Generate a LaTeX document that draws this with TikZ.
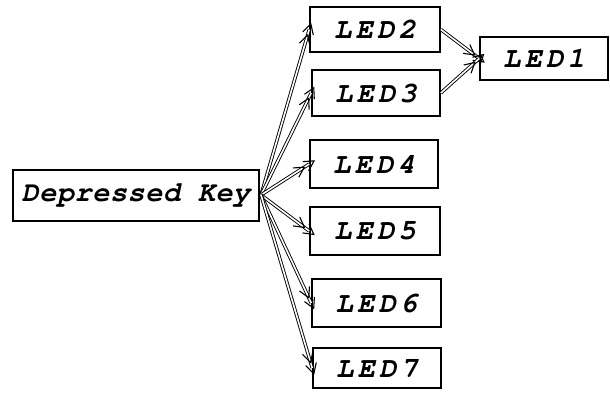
\documentclass[tikz,border=0pt]{standalone}
\usepackage{fontspec}
\newfontfamily\courfont{TeX Gyre Cursor}[LetterSpace=2]
\newfontfamily\courled{TeX Gyre Cursor}[LetterSpace=14]
\usetikzlibrary{arrows.meta,decorations.markings}
\begin{document}
\begin{tikzpicture}[x=1pt,y=-1pt,
  box/.style={draw=black,line width=1.6pt,fill=white,inner sep=0pt,
    minimum width=128pt,minimum height=46pt,font=\courled\fontsize{29}{31}\selectfont\bfseries\itshape},
  dbl/.style={draw=black,line width=0.9pt,double=white,double distance=1.6pt,
    postaction={decorate,decoration={markings,mark=at position 1 with
      {\arrow[line width=1.1pt]{Straight Barb[length=10pt,width=11pt] Straight Barb[length=10pt,width=11pt,sep=-7pt]}}}}}]
\useasboundingbox (0,0) rectangle (610,397);
\node[box,minimum width=246pt,minimum height=51pt,font=\courfont\fontsize{28.5}{30}\selectfont\bfseries\itshape] (dk) at (136,195.5) {Depressed Key};
\node[box,minimum width=130pt,minimum height=45pt] (l2) at (375,29.5) {LED2};
\node[box,minimum width=128pt,minimum height=46pt] (l3) at (376,93) {LED3};
\node[box,minimum width=128pt,minimum height=43pt] (l1) at (544,58.5) {LED1};
\node[box,minimum width=128pt,minimum height=48pt] (l4) at (374,164) {LED4};
\node[box,minimum width=130pt,minimum height=48pt] (l5) at (375,231) {LED5};
\node[box,minimum width=129pt,minimum height=48pt] (l6) at (376.5,303) {LED6};
\node[box,minimum width=128pt,minimum height=40pt] (l7) at (377,368) {LED7};
\coordinate (hub) at (261,195);
\foreach \t in {l2,l3,l4,l5,l6,l7} \draw[dbl] (hub) -- (\t.west);
\draw[dbl] (l2.east) -- (l1.west);
\draw[dbl] (l3.east) -- (l1.west);
\end{tikzpicture}
\end{document}
